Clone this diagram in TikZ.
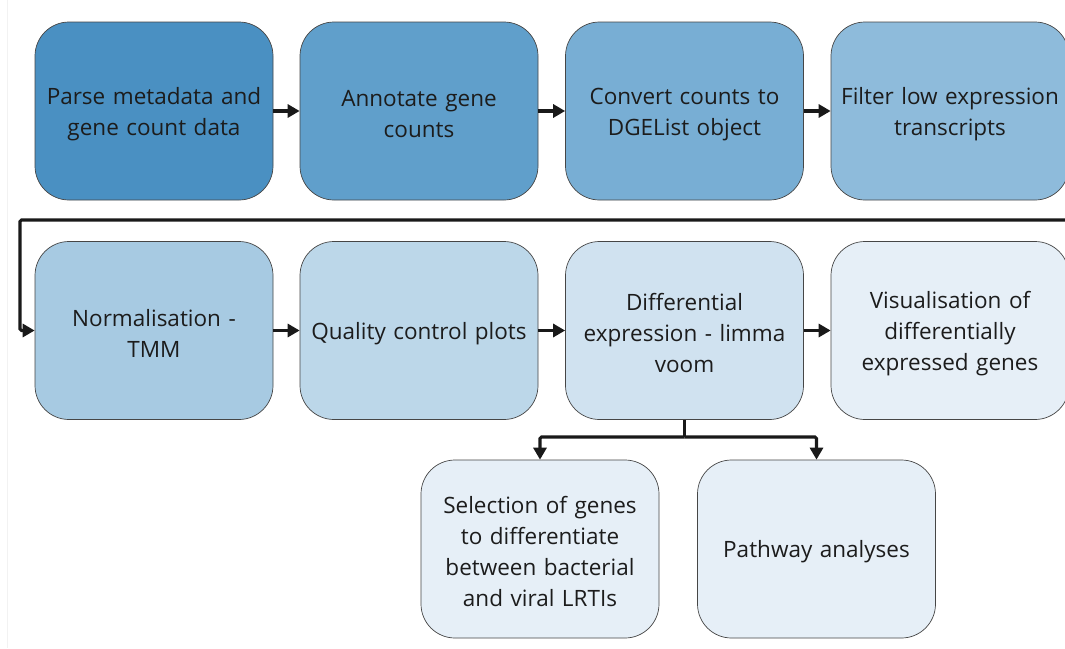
\documentclass[tikz,border=0pt]{standalone}
\usepackage{fontspec}
\setmainfont{Open Sans}
\usetikzlibrary{arrows.meta}
\definecolor{cA}{RGB}{74,144,194}
\definecolor{cB}{RGB}{96,159,203}
\definecolor{cC}{RGB}{120,174,212}
\definecolor{cD}{RGB}{142,187,219}
\definecolor{cE}{RGB}{167,202,226}
\definecolor{cF}{RGB}{188,215,233}
\definecolor{cG}{RGB}{208,226,240}
\definecolor{cH}{RGB}{230,239,247}
\definecolor{txt}{RGB}{28,28,28}
\definecolor{edge}{RGB}{70,70,70}
\definecolor{wire}{RGB}{25,25,25}
\begin{document}
\begin{tikzpicture}[x=1pt,y=-1pt,
  stage/.style={draw=edge, line width=0.7pt, rounded corners=34pt,
    minimum width=238pt, minimum height=178pt, text width=232pt,
    align=center, text=txt, inner sep=0pt,
    font=\fontsize{22.5}{31}\selectfont,
    % a tall strut on the first line sets the text a little lower
    execute at begin node={\rule{0pt}{22.5pt}}},
  flow/.style={draw=wire, line width=3.1pt,
    -{Triangle[length=12pt,width=13pt]}}]
\clip (0,0) rectangle (1065,648);
\useasboundingbox (0,0) rectangle (1065,648);
\fill[white] (0,0) rectangle (1065,648);
\draw[gray!10, line width=0.8pt] (7.5,0) -- (7.5,648);

% first row
\node[stage, fill=cA] (parse)   at (154,111)   {Parse metadata and\\gene count data};
\node[stage, fill=cB] (annot)   at (419,111)   {Annotate gene\\counts};
\node[stage, fill=cC] (dge)     at (684.5,111) {Convert counts to\\DGEList object};
\node[stage, fill=cD] (filter)  at (950,111)   {Filter low expression\\transcripts};

% second row
\node[stage, fill=cE] (norm)    at (154,330.5)   {Normalisation -\\TMM};
\node[stage, fill=cF] (qc)      at (419,330.5)   {Quality control plots};
\node[stage, fill=cG] (diff)    at (684.5,330.5) {Differential\\expression - limma\\voom};
\node[stage, fill=cH] (vis)     at (950,330.5)   {Visualisation of\\differentially\\expressed genes};

% third row
\node[stage, fill=cH] (select)  at (540,549)   {Selection of genes\\to differentiate\\between bacterial\\and viral LRTIs};
\node[stage, fill=cH] (path)    at (816.5,549) {Pathway analyses};

% connectors
\draw[flow] (parse) -- (annot);
\draw[flow] (annot) -- (dge);
\draw[flow] (dge) -- (filter);
\coordinate (wrap) at (1075,220);
\draw[flow, rounded corners=1.5pt] (wrap) -- (20,220) |- (norm.west);
\draw[flow] (norm) -- (qc);
\draw[flow] (qc) -- (diff);
\draw[flow] (diff) -- (vis);
\coordinate (split) at (684.5,437);
\draw[draw=wire, line width=3.1pt] (diff.south) -- (split);
\draw[flow, rounded corners=1.5pt] (split) -| (select.north);
\draw[flow, rounded corners=1.5pt] (split) -| (path.north);
\end{tikzpicture}
\end{document}
